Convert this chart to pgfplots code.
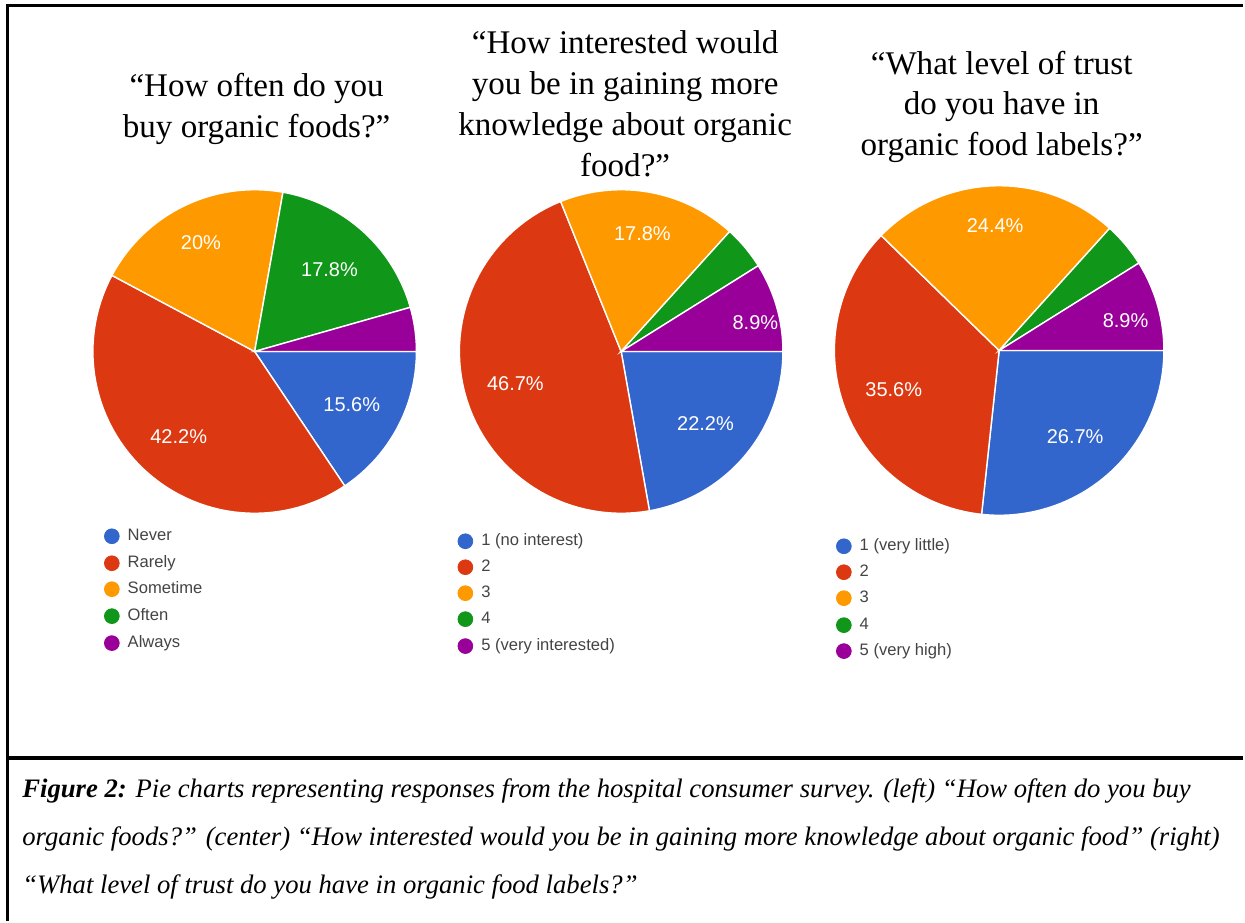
\documentclass[border=0pt]{standalone}
\usepackage{fontspec}
\setmainfont{Liberation Serif}
\setsansfont{Liberation Sans}
\usepackage{pgfplots}
\pgfplotsset{compat=1.18}
\definecolor{gBlue}{HTML}{3366CC}
\definecolor{gRed}{HTML}{DC3912}
\definecolor{gOrange}{HTML}{FF9900}
\definecolor{gGreen}{HTML}{109618}
\definecolor{gPurple}{HTML}{990099}
\definecolor{legtext}{HTML}{444444}
\tikzset{
  pielbl/.style={font=\sffamily\fontsize{10}{12}\selectfont, text=white, inner sep=0pt, yshift=-0.7pt},
  legtxt/.style={font=\sffamily\fontsize{8.3}{10}\selectfont, text=legtext, anchor=west, inner sep=0pt},
  ttlnode/.style={font=\fontsize{16.55}{20.4}\selectfont, align=center, inner sep=0pt},
  captnode/.style={font=\fontsize{13.35}{16}\selectfont\itshape, anchor=base west, inner sep=0pt},
}
% pie: centre x, centre y, radius (picture pixels)
\newcommand\pie[3]{\xdef\pcx{#1}\xdef\pcy{#2}\xdef\pr{#3}\xdef\pcum{0}}
% slice: percentage, colour, label radius fraction (0 = no label), label angle offset
\newcommand\slice[4]{%
  \pgfmathsetmacro\sA{\pcum*3.6}%
  \pgfmathsetmacro\sB{(\pcum+#1)*3.6}%
  \pgfmathsetmacro\sM{(\sA+\sB)/2+#4}%
  \pgfmathsetmacro\sLx{\pcx+#3*\pr*cos(\sM)}%
  \pgfmathsetmacro\sLy{\pcy+#3*\pr*sin(\sM)}%
  \edef\doslice{\noexpand\addplot[fill=#2, draw=white, line width=0.7pt, domain=\sA:\sB, samples=60]
    ({\pcx+\pr*cos(x)},{\pcy+\pr*sin(x)}) -- (axis cs:\pcx,\pcy) -- cycle;}%
  \doslice
  \ifdim#3pt>0pt
    \edef\dolabel{\noexpand\node[pielbl] at (axis cs:\sLx,\sLy) {#1\noexpand\%};}\dolabel
  \fi
  \pgfmathsetmacro\newcum{\pcum+#1}\xdef\pcum{\newcum}%
}
% legend item: x, y, colour, text
\newcommand\legitem[4]{%
  \edef\doleg{\noexpand\addplot[only marks, color=#3, mark=*, mark size=3.7pt, mark options={solid, draw=#3, fill=#3}] coordinates {(#1,#2)};}%
  \doleg
  \pgfmathsetmacro\tx{#1+15.5}%
  \edef\dotxt{\noexpand\node[legtxt] at (axis cs:\tx,#2) {\noexpand\strut #4};}\dotxt
}
\begin{document}
\begin{tikzpicture}
\begin{axis}[scale only axis, width=622.5pt, height=461pt,
  xmin=0, xmax=1245, ymin=0, ymax=922, y dir=reverse,
  hide axis, clip=false]
\fill[white] (axis cs:0,0) rectangle (axis cs:1245,922);

% ---- chart 1: How often do you buy organic foods?
\pie{255}{352}{162}
\slice{15.6}{gBlue}{0.68}{0}
\slice{42.2}{gRed}{0.70}{0}
\slice{20}{gOrange}{0.76}{0}
\slice{17.8}{gGreen}{0.69}{0}
\slice{4.4}{gPurple}{0}{0}

% ---- chart 2: interest in knowledge
\pie{622}{352}{162}
\slice{22.2}{gBlue}{0.68}{0}
\slice{46.7}{gRed}{0.68}{0}
\slice{17.8}{gOrange}{0.75}{0}
\slice{4.4}{gGreen}{0}{0}
\slice{8.9}{gPurple}{0.85}{3.5}

% ---- chart 3: trust in labels
\pie{1000.5}{351}{165}
\slice{26.7}{gBlue}{0.69}{0}
\slice{35.6}{gRed}{0.68}{0}
\slice{24.4}{gOrange}{0.77}{0}
\slice{4.4}{gGreen}{0}{0}
\slice{8.9}{gPurple}{0.79}{2.2}

% ---- legends
\legitem{112}{537}{gBlue}{Never}
\legitem{112}{564}{gRed}{Rarely}
\legitem{112}{590}{gOrange}{Sometime}
\legitem{112}{617}{gGreen}{Often}
\legitem{112}{644}{gPurple}{Always}

\legitem{466}{542}{gBlue}{1 (no interest)}
\legitem{466}{568}{gRed}{2}
\legitem{466}{594}{gOrange}{3}
\legitem{466}{620}{gGreen}{4}
\legitem{466}{647}{gPurple}{5 (very interested)}

\legitem{845}{547}{gBlue}{1 (very little)}
\legitem{845}{573}{gRed}{2}
\legitem{845}{599}{gOrange}{3}
\legitem{845}{626}{gGreen}{4}
\legitem{845}{652}{gPurple}{5 (very high)}

% ---- titles
\node[ttlnode] at (axis cs:257,109) {“How often do you\\buy organic foods?”};
\node[ttlnode] at (axis cs:626,104) {“How interested would\\you be in gaining more\\knowledge about organic\\food?”};
\node[ttlnode] at (axis cs:1003,107) {“What level of trust\\do you have in\\organic food labels?”};

% ---- frame
\draw[line width=1.5pt] (axis cs:6,6) -- (axis cs:1245,6);
\draw[line width=1.5pt] (axis cs:7.5,5.3) -- (axis cs:7.5,922);
\draw[line width=1.7pt] (axis cs:6.5,759) -- (axis cs:1245,759);

% ---- caption
\node[captnode] at (axis cs:22,799) {\textbf{Figure 2:} Pie charts representing responses from the hospital consumer survey. (left) “How often do you buy};
\node[captnode] at (axis cs:22,847) {organic foods?” (center) “How interested would you be in gaining more knowledge about organic food” (right)};
\node[captnode] at (axis cs:22,895) {“What level of trust do you have in organic food labels?”};
\end{axis}
\end{tikzpicture}
\end{document}
